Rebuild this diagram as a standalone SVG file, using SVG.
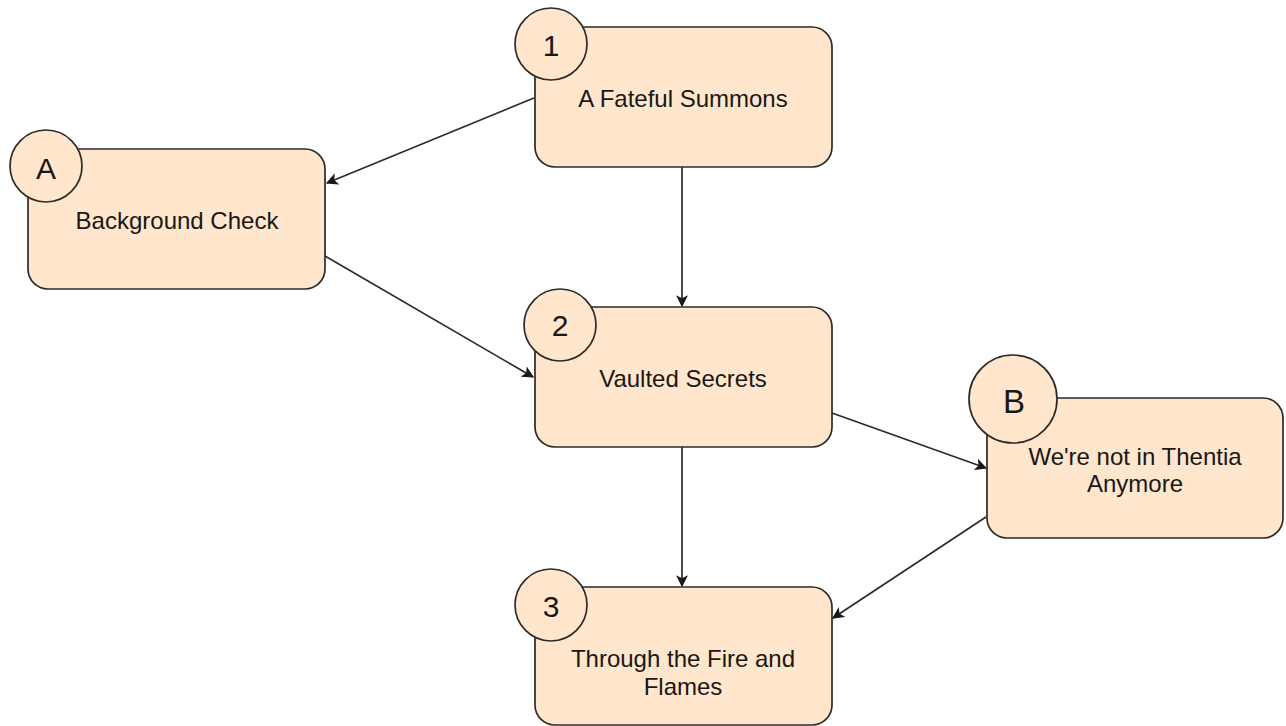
<svg xmlns="http://www.w3.org/2000/svg" width="1286" height="726" viewBox="0 0 1286 726">
<style>
.box{fill:#ffe6cc;stroke:#2e2a28;stroke-width:1.7}
.lbl{font-family:"Liberation Sans",Arial,Helvetica,sans-serif;font-size:24px;fill:#1a1716;text-anchor:middle}
.num{font-family:"Liberation Sans",Arial,Helvetica,sans-serif;font-size:30px;fill:#1a1716;text-anchor:middle}
.edge{stroke:#2e2a28;stroke-width:1.7;fill:none;marker-end:url(#arr)}
</style>
<defs>
<marker id="arr" viewBox="0 0 10 10" refX="9" refY="5" markerWidth="12" markerHeight="12" markerUnits="userSpaceOnUse" orient="auto">
<path d="M0,0 L10,5 L0,10 L2.5,5 Z" fill="#1a1716"/>
</marker>
</defs>
<rect width="1286" height="726" fill="#ffffff"/>
<g id="connectors">
<line class="edge" x1="534" y1="98" x2="327" y2="183"/>
<line class="edge" x1="682" y1="167" x2="682" y2="306"/>
<line class="edge" x1="325" y1="256" x2="533" y2="377"/>
<line class="edge" x1="832" y1="413" x2="986" y2="468"/>
<line class="edge" x1="682" y1="447" x2="682" y2="586"/>
<line class="edge" x1="986" y1="517" x2="833" y2="618"/>
</g>
<g id="node1">
<rect class="box" x="535" y="27" width="297" height="140" rx="20"/>
<circle class="box" cx="551" cy="44" r="36"/>
<text class="num" x="551" y="56">1</text>
<text class="lbl" x="683" y="107">A Fateful Summons</text>
</g>
<g id="nodeA">
<rect class="box" x="28" y="149" width="297" height="140" rx="20"/>
<circle class="box" cx="46" cy="166" r="36"/>
<text class="num" x="46" y="179">A</text>
<text class="lbl" x="177" y="229">Background Check</text>
</g>
<g id="node2">
<rect class="box" x="535" y="307" width="297" height="140" rx="20"/>
<circle class="box" cx="560" cy="325" r="36"/>
<text class="num" x="560" y="336">2</text>
<text class="lbl" x="683" y="387">Vaulted Secrets</text>
</g>
<g id="nodeB">
<rect class="box" x="987" y="398" width="296" height="140" rx="20"/>
<circle class="box" cx="1013" cy="399" r="44"/>
<text class="num" x="1014" y="413" style="font-size:33px">B</text>
<text class="lbl" x="1135" y="465">We're not in Thentia</text>
<text class="lbl" x="1135" y="492">Anymore</text>
</g>
<g id="node3">
<rect class="box" x="535" y="587" width="297" height="138" rx="20"/>
<circle class="box" cx="551" cy="605" r="36"/>
<text class="num" x="551" y="617">3</text>
<text class="lbl" x="683" y="667">Through the Fire and</text>
<text class="lbl" x="683" y="695">Flames</text>
</g>
</svg>
